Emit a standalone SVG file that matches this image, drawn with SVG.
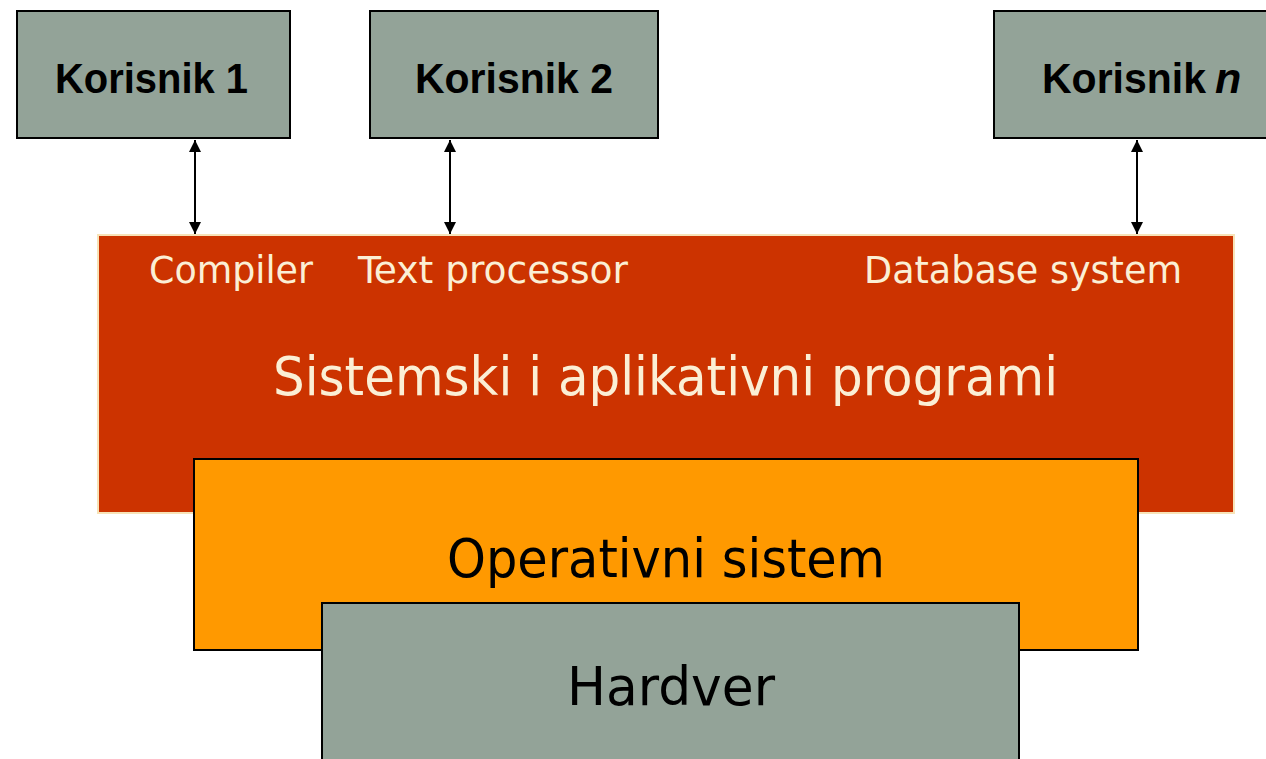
<svg xmlns="http://www.w3.org/2000/svg" width="1266" height="759" viewBox="0 0 1266 759">
<defs>
<style>
.user{fill:#93a398;stroke:#000;stroke-width:2}
.ut{font-family:"Liberation Sans",Arial,sans-serif;font-weight:bold;font-size:43px;fill:#000}
.app{font-family:"DejaVu Sans Condensed","DejaVu Sans",sans-serif;font-size:37px;fill:#fbefd5}
.big{font-family:"DejaVu Sans",sans-serif;font-size:53px}
.conn{stroke:#000;stroke-width:2;fill:none;marker-start:url(#ah);marker-end:url(#ah)}
</style>
<marker id="ah" viewBox="0 0 10 10" refX="10" refY="5" markerWidth="7" markerHeight="6" orient="auto-start-reverse" markerUnits="strokeWidth">
<path d="M0,0 L10,5 L0,10 z" fill="#000"/>
</marker>
</defs>
<rect width="1266" height="759" fill="#fff"/>
<g id="programi">
<rect x="98" y="235" width="1136" height="278" fill="#cc3300" stroke="#f7e3b8" stroke-width="2"/>
<text class="app" x="149" y="283" textLength="164" lengthAdjust="spacingAndGlyphs">Compiler</text>
<text class="app" x="358" y="283" textLength="270" lengthAdjust="spacingAndGlyphs">Text processor</text>
<text class="app" x="864" y="283" textLength="318" lengthAdjust="spacingAndGlyphs">Database system</text>
<text class="big" x="273" y="395" fill="#fbefd5" textLength="785" lengthAdjust="spacingAndGlyphs">Sistemski i aplikativni programi</text>
</g>
<g id="os">
<rect x="194" y="459" width="944" height="191" fill="#ff9900" stroke="#000" stroke-width="2"/>
<text class="big" x="447" y="577" fill="#000" textLength="438" lengthAdjust="spacingAndGlyphs">Operativni sistem</text>
</g>
<g id="hardver">
<rect x="322" y="603" width="697" height="170" fill="#93a398" stroke="#000" stroke-width="2"/>
<text class="big" x="567" y="705" fill="#000" textLength="208" lengthAdjust="spacingAndGlyphs">Hardver</text>
</g>
<g id="korisnik1">
<rect class="user" x="17" y="11" width="273" height="127"/>
<text class="ut" x="55" y="93" textLength="193" lengthAdjust="spacingAndGlyphs">Korisnik 1</text>
</g>
<g id="korisnik2">
<rect class="user" x="370" y="11" width="288" height="127"/>
<text class="ut" x="415" y="93" textLength="198" lengthAdjust="spacingAndGlyphs">Korisnik 2</text>
</g>
<g id="korisnikn">
<rect class="user" x="994" y="11" width="290" height="127"/>
<text class="ut" x="1042" y="93" textLength="164" lengthAdjust="spacingAndGlyphs">Korisnik</text>
<text class="ut" x="1215" y="93" font-style="italic">n</text>
</g>
<g id="connectors">
<line class="conn" x1="195" y1="140" x2="195" y2="234"/>
<line class="conn" x1="450" y1="140" x2="450" y2="234"/>
<line class="conn" x1="1137" y1="140" x2="1137" y2="234"/>
</g>
</svg>
